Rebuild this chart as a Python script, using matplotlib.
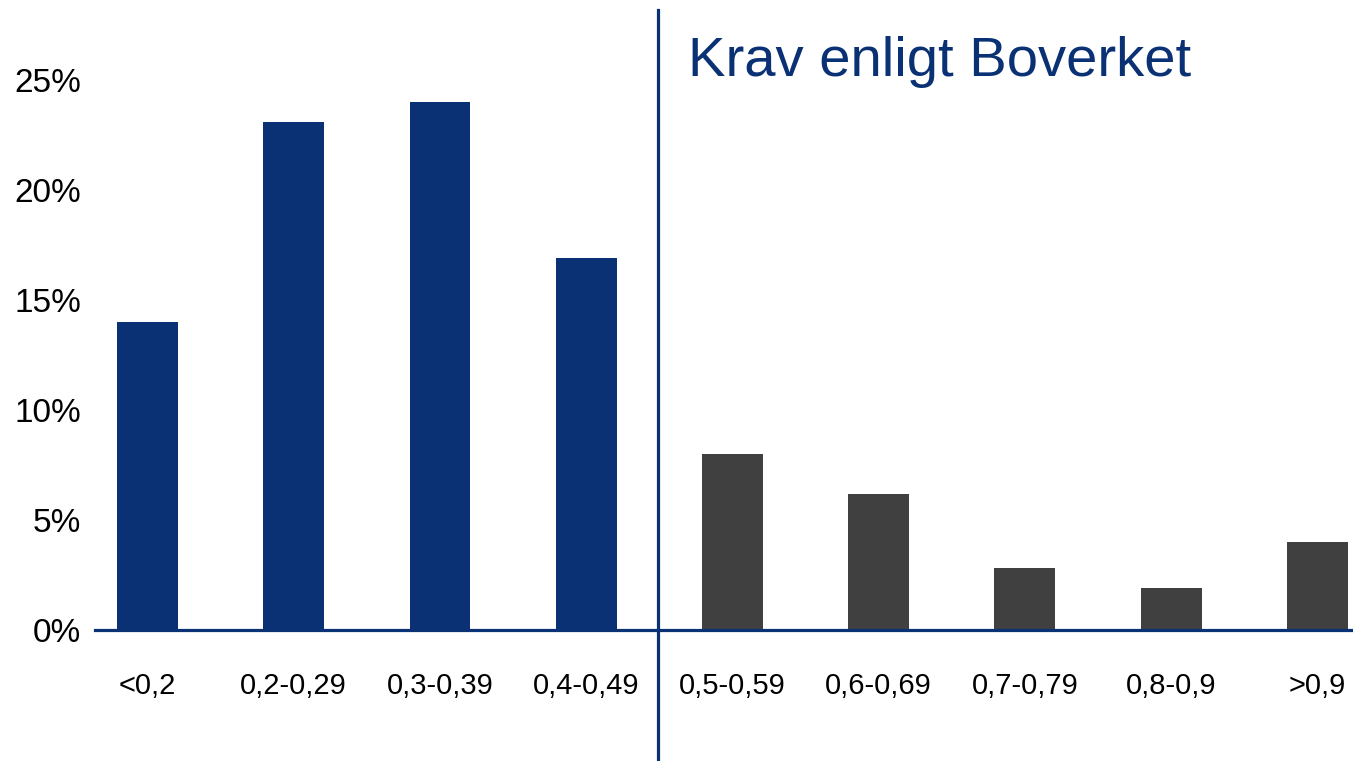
import matplotlib.pyplot as plt
import numpy as np

# Andel per intervall (procent)
kategorier = ['<0,2', '0,2-0,29', '0,3-0,39', '0,4-0,49', '0,5-0,59',
              '0,6-0,69', '0,7-0,79', '0,8-0,9', '>0,9']
andel = [14.0, 23.1, 24.0, 16.9, 8.0, 6.2, 2.8, 1.9, 4.0]
yticks = [0, 5, 10, 15, 20, 25]

BLA = '#0a3174'
GRA = '#404040'

plt.rcParams['font.family'] = ['Liberation Sans', 'DejaVu Sans']

fig = plt.figure(figsize=(13.53, 7.61), dpi=100)
ax = fig.add_axes([95/1353, 131/761, 1258/1353, 616/761])

x = np.arange(len(kategorier))
farger = [BLA if i < 4 else GRA for i in x]
ax.bar(x, andel, width=0.417, color=farger, zorder=2)

ax.set_xlim(-0.359, 8.243)
ax.set_ylim(0, 28)

ax.set_xticks(x)
ax.set_xticklabels(kategorier, fontsize=21)
ax.set_yticks(yticks)
ax.set_yticklabels([f'{v}%' for v in yticks], fontsize=24)
ax.tick_params(axis='x', length=0, pad=30)
ax.tick_params(axis='y', length=0, pad=10)

for s in ['left', 'top', 'right']:
    ax.spines[s].set_visible(False)
ax.spines['bottom'].set_color(BLA)
ax.spines['bottom'].set_linewidth(2.3)
ax.spines['bottom'].set_zorder(3)

# Gräns för Boverkets krav
ax.axvline(3.49, ymin=-0.211, ymax=1.007, color=BLA, linewidth=2.3,
           clip_on=False, zorder=3)
fig.text(688/1353, (761-76)/761, 'Krav enligt Boverket', fontsize=40.5,
         color=BLA, ha='left', va='baseline')

fig.savefig('out.png', dpi=100)
